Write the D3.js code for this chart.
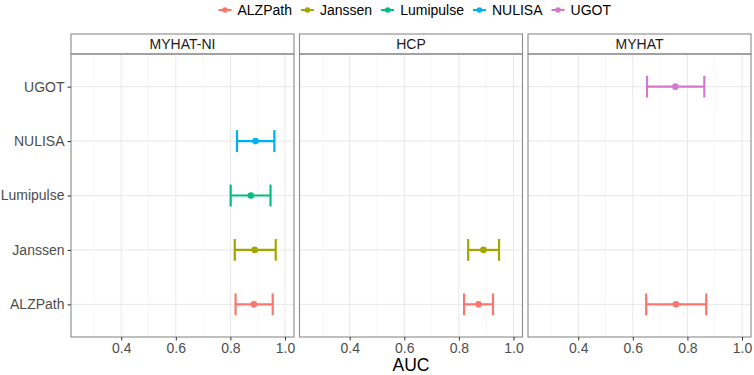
<!DOCTYPE html>
<html>
<head>
<meta charset="utf-8">
<script src="https://cdn.jsdelivr.net/npm/d3@7"></script>
<style>
  body { margin: 0; background: #fff; }
  svg { display: block; font-family: "Liberation Sans", Arial, sans-serif; }
</style>
</head>
<body>
<div class="js-vis"></div>
<script>
// facets, assays and AUC estimates with 95% CI
const cohorts = ["MYHAT-NI", "HCP", "MYHAT"]
const assays = ["ALZPath", "Janssen", "Lumipulse", "NULISA", "UGOT"]
const colors = ["#F8766D", "#A3A500", "#00BF7D", "#00B0F6", "#D477CF"]

const rowCohort = ["MYHAT-NI", "MYHAT-NI", "MYHAT-NI", "MYHAT-NI", "HCP", "HCP", "MYHAT", "MYHAT"]
const rowAssay  = ["NULISA", "Lumipulse", "Janssen", "ALZPath", "Janssen", "ALZPath", "ALZPath", "UGOT"]
const rowAuc    = [0.892, 0.875, 0.889, 0.886, 0.890, 0.872, 0.758, 0.756]
const rowLow    = [0.824, 0.801, 0.816, 0.819, 0.834, 0.819, 0.649, 0.652]
const rowHigh   = [0.961, 0.947, 0.966, 0.955, 0.947, 0.925, 0.869, 0.862]

const xTicks = [0.4, 0.6, 0.8, 1.0]
const xMinor = [0.3, 0.5, 0.7, 0.9]

const data = rowCohort.map((c, i) => ({
  cohort: c, assay: rowAssay[i], auc: rowAuc[i], lo: rowLow[i], hi: rowHigh[i]
}))

const W = 754, H = 375
const mLeft = 71, mRight = 751, mTop = 34, stripH = 20, mBottom = 337, gap = 5.5
const panelW = (mRight - mLeft - gap * (cohorts.length - 1)) / cohorts.length
const panelTop = mTop + stripH

const color = d3.scaleOrdinal().domain(assays).range(colors)

const x = d3.scaleLinear()
  .domain([0.216, 1.033])
  .range([0, panelW])

const y = d3.scalePoint()
  .domain(assays.slice().reverse())
  .range([panelTop, mBottom])
  .padding(0.6)

const svg = d3.select(".js-vis").append("svg")
  .attr("width", W)
  .attr("height", H)

// panels
cohorts.forEach((c, k) => {
  const g = svg.append("g")
    .attr("transform", "translate(" + (mLeft + k * (panelW + gap)) + ",0)")

  g.append("rect")
    .attr("x", 0).attr("y", panelTop)
    .attr("width", panelW).attr("height", mBottom - panelTop)
    .attr("fill", "#fff")

  g.selectAll(".minor")
    .data(xMinor)
  .enter().append("line")
    .attr("x1", d => x(d)).attr("x2", d => x(d))
    .attr("y1", panelTop).attr("y2", mBottom)
    .attr("stroke", "#f2f2f2").attr("stroke-width", 0.6)

  g.selectAll(".major")
    .data(xTicks)
  .enter().append("line")
    .attr("x1", d => x(d)).attr("x2", d => x(d))
    .attr("y1", panelTop).attr("y2", mBottom)
    .attr("stroke", "#e8e8e8").attr("stroke-width", 1)

  g.selectAll(".hgrid")
    .data(assays)
  .enter().append("line")
    .attr("x1", 0).attr("x2", panelW)
    .attr("y1", d => y(d)).attr("y2", d => y(d))
    .attr("stroke", "#e8e8e8").attr("stroke-width", 1)

  // strip
  g.append("rect")
    .attr("x", 0).attr("y", mTop)
    .attr("width", panelW).attr("height", stripH)
    .attr("fill", "#fff")
    .attr("stroke", "#8a8a8a").attr("stroke-width", 1.1)

  g.append("text")
    .attr("x", panelW / 2).attr("y", mTop + stripH / 2)
    .attr("dy", "0.35em")
    .attr("text-anchor", "middle")
    .style("font-size", "14px")
    .attr("fill", "#1a1a1a")
    .text(c)

  // error bars
  const rows = data.filter(d => d.cohort === c)
  const capH = y.step() * 0.2

  const bars = g.selectAll(".bar")
    .data(rows)
  .enter().append("g")
    .attr("stroke", d => color(d.assay))
    .attr("stroke-width", 2.2)

  bars.append("line")
    .attr("x1", d => x(d.lo)).attr("x2", d => x(d.hi))
    .attr("y1", d => y(d.assay)).attr("y2", d => y(d.assay))
  bars.append("line")
    .attr("x1", d => x(d.lo)).attr("x2", d => x(d.lo))
    .attr("y1", d => y(d.assay) - capH).attr("y2", d => y(d.assay) + capH)
  bars.append("line")
    .attr("x1", d => x(d.hi)).attr("x2", d => x(d.hi))
    .attr("y1", d => y(d.assay) - capH).attr("y2", d => y(d.assay) + capH)
  bars.append("circle")
    .attr("cx", d => x(d.auc)).attr("cy", d => y(d.assay))
    .attr("r", 3.3)
    .attr("stroke", "none")
    .attr("fill", d => color(d.assay))

  g.append("rect")
    .attr("x", 0).attr("y", panelTop)
    .attr("width", panelW).attr("height", mBottom - panelTop)
    .attr("fill", "none")
    .attr("stroke", "#8a8a8a").attr("stroke-width", 1.1)

  // x axis
  const xa = g.append("g")
    .attr("transform", "translate(0," + mBottom + ")")
    .call(d3.axisBottom(x).tickValues(xTicks).tickFormat(d3.format(".1f")).tickSize(3.5).tickPadding(3))
  xa.select(".domain").remove()
  xa.selectAll("line").attr("stroke", "#333")
  xa.selectAll("text").attr("fill", "#4d4d4d").style("font-size", "14px")
})

// y axis
const ya = svg.append("g")
  .attr("transform", "translate(" + mLeft + ",0)")
  .call(d3.axisLeft(y).tickSize(3.5).tickPadding(3))
ya.select(".domain").remove()
ya.selectAll("line").attr("stroke", "#333")
ya.selectAll("text").attr("fill", "#4d4d4d").style("font-size", "14px")

// x title
svg.append("text")
  .attr("x", (mLeft + mRight) / 2).attr("y", 371)
  .attr("text-anchor", "middle")
  .style("font-size", "17.5px")
  .attr("fill", "#000")
  .text("AUC")

// legend
const legend = svg.append("g")
let lx = 0
assays.forEach(a => {
  const item = legend.append("g").attr("transform", "translate(" + lx + ",0)")
  item.append("line")
    .attr("x1", 0).attr("x2", 13)
    .attr("y1", 0).attr("y2", 0)
    .attr("stroke", color(a)).attr("stroke-width", 2)
  item.append("circle")
    .attr("cx", 6.5).attr("cy", 0).attr("r", 2.8)
    .attr("fill", color(a))
  const t = item.append("text")
    .attr("x", 19).attr("dy", "0.35em")
    .style("font-size", "14px")
    .attr("fill", "#000")
    .text(a)
  lx += 19 + t.node().getComputedTextLength() + 9
})
legend.attr("transform", "translate(218.5,10)")
</script>
</body>
</html>
